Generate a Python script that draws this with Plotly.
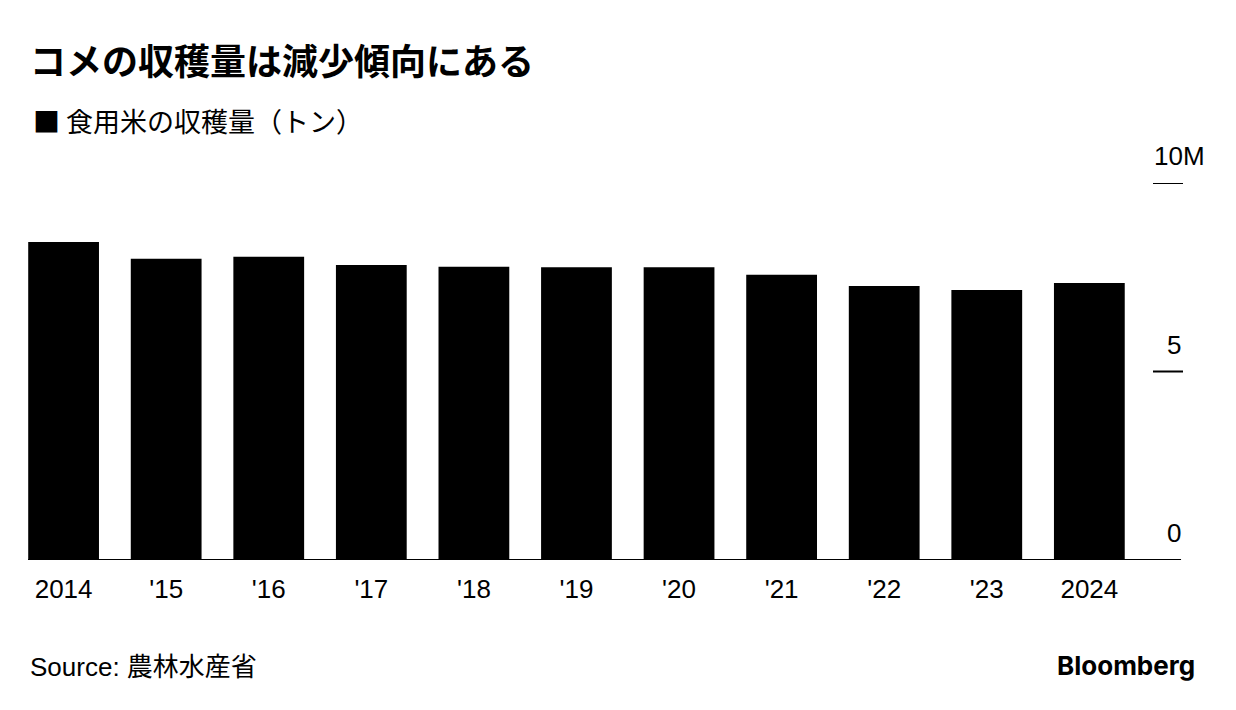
"""Rice harvest bar chart, Bloomberg style"""
import plotly.graph_objects as go

years = [2014, 2015, 2016, 2017, 2018, 2019, 2020, 2021, 2022, 2023, 2024]
year_labels = ["2014", "'15", "'16", "'17", "'18", "'19", "'20", "'21", "'22", "'23", "2024"]
harvest_tons = [8435000, 7989000, 8042000, 7822000, 7780000, 7762000,
                7763000, 7563000, 7269000, 7165000, 7346000]
y_ticks = [0, 5000000, 10000000]
y_tick_labels = ["0", "5", "10M"]

FONT = "Liberation Sans, Noto Sans CJK JP, sans-serif"
CJK = "Noto Sans CJK JP, Liberation Sans, sans-serif"

# the page body adds 8px of margin, so positions are shifted back by that much
OFF = 8
W, H = 1236, 710
L, R, T, B = 28 - OFF, 53 + OFF, 183 - OFF, 150 + OFF

fig = go.Figure(
    data=[go.Bar(x=years, y=harvest_tons, width=0.69,
                 marker=dict(color="#000000", line=dict(width=0)),
                 hoverinfo="x+y")]
)

fig.update_layout(
    width=W, height=H,
    margin=dict(l=L, r=R, t=T, b=B),
    paper_bgcolor="white", plot_bgcolor="white",
    showlegend=False,
    font=dict(family=FONT, color="#000000"),
    xaxis=dict(range=[2013.653, 2024.913], tickmode="array", tickvals=years,
               ticktext=year_labels, showgrid=False, zeroline=False,
               showline=False, ticks="", tickfont=dict(size=26, family=FONT),
               ticklabelstandoff=11),
    yaxis=dict(range=[0, 10000000], showgrid=False, zeroline=False,
               showticklabels=False, showline=False),
)

# baseline
fig.add_shape(type="line", xref="paper", yref="y", x0=0, x1=0.9983, y0=0, y1=0,
              line=dict(color="#000000", width=2))

# right-hand tick dashes and labels
for val, lab in zip(y_ticks, y_tick_labels):
    if val > 0:
        fig.add_shape(type="line", xref="paper", yref="y", x0=0.974, x1=1.0,
                      y0=val, y1=val, line=dict(color="#000000", width=2))
    fig.add_annotation(x=1.0 if lab != "10M" else 1.021, y=val, xref="paper", yref="y",
                       text=lab, showarrow=False, xanchor="right", yanchor="bottom",
                       yshift=10, font=dict(size=26, family=FONT, color="#000000"))

pw, ph = W - L - R, H - T - B


def px(x, y):
    """pixel position in the screenshot -> paper coords"""
    return (x - OFF - L) / pw, (H - B - (y - OFF)) / ph


texts = [
    (28, 59, "left", "<b>コメの収穫量は減少傾向にある</b>", 36, CJK),
    (31, 120, "left", "■ 食用米の収穫量（トン）", 27, CJK),
    (28, 667, "left", "Source: 農林水産省", 26, FONT),
    (1197, 665, "right", "<b>Bloomberg</b>", 26, "Inter, Liberation Sans, sans-serif"),
]
for x, y, anchor, txt, size, fam in texts:
    ax, ay = px(x, y)
    fig.add_annotation(x=ax, y=ay, xref="paper", yref="paper", text=txt,
                       showarrow=False, xanchor=anchor, yanchor="middle",
                       font=dict(size=size, family=fam, color="#000000"))

fig.write_html("out.html")
